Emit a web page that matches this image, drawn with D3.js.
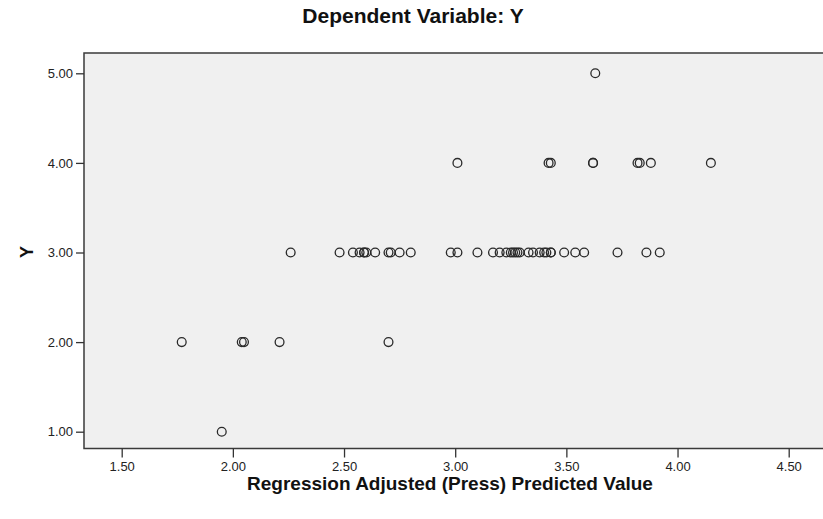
<!DOCTYPE html>
<html>
<head>
<meta charset="utf-8">
<script src="https://cdn.jsdelivr.net/npm/d3@7"></script>
<style>
  html, body { margin: 0; padding: 0; background: #ffffff; }
  svg { display: block; font-family: Arial, "Liberation Sans", sans-serif; }
</style>
</head>
<body>
<svg id="chart" width="823" height="519"></svg>
<script>
// ---- data ----
const chartTitle = "Dependent Variable: Y";
const xTitle = "Regression Adjusted (Press) Predicted Value";
const yTitle = "Y";
const xTicks = [1.5, 2.0, 2.5, 3.0, 3.5, 4.0, 4.5];
const yTicks = [1, 2, 3, 4, 5];

// predicted values observed at each level of Y
const predAtY1 = [1.95];
const predAtY2 = [1.77, 2.04, 2.05, 2.21, 2.70];
const predAtY3 = [2.26, 2.48, 2.54, 2.57, 2.59, 2.59, 2.60, 2.64, 2.70, 2.71, 2.75, 2.80,
                  2.98, 3.01, 3.10, 3.17, 3.20, 3.23, 3.25, 3.26, 3.27, 3.28, 3.29,
                  3.33, 3.35, 3.38, 3.40, 3.41, 3.43, 3.43, 3.49, 3.54, 3.58, 3.73, 3.86, 3.92];
const predAtY4 = [3.01, 3.42, 3.43, 3.62, 3.62, 3.82, 3.83, 3.88, 4.15];
const predAtY5 = [3.63];

const yLevels = [1, 2, 3, 4, 5];
const predByLevel = [predAtY1, predAtY2, predAtY3, predAtY4, predAtY5];

const points = [];
yLevels.forEach((lv, i) => predByLevel[i].forEach(p => points.push({x: p, y: lv})));

// ---- layout ----
const svg = d3.select("#chart");
const plot = {left: 84, top: 53, right: 840, bottom: 448.5};

const x = d3.scaleLinear().domain([1.5, 4.5]).range([121.7, 788.7]);
const y = d3.scaleLinear().domain([1, 5]).range([431.7, 73.3]);

svg.append("rect")
  .attr("x", plot.left).attr("y", plot.top)
  .attr("width", plot.right - plot.left).attr("height", plot.bottom - plot.top)
  .attr("fill", "#f0f0f0")
  .attr("stroke", "#3a3a3a").attr("stroke-width", 1.5);

// axes
const xAxis = d3.axisBottom(x).tickValues(xTicks).tickFormat(d3.format(".2f"))
  .tickSizeOuter(0).tickSizeInner(9).tickPadding(4);
const gx = svg.append("g").attr("transform", `translate(0,${plot.bottom})`).call(xAxis);
gx.select(".domain").remove();

const yAxis = d3.axisLeft(y).tickValues(yTicks).tickFormat(d3.format(".2f"))
  .tickSizeOuter(0).tickSizeInner(8).tickPadding(3);
const gy = svg.append("g").attr("transform", `translate(${plot.left},0)`).call(yAxis);
gy.select(".domain").remove();

svg.selectAll(".tick line").attr("stroke", "#333").attr("stroke-width", 1.3);
svg.selectAll(".tick text").attr("fill", "#222").style("font-size", "13px")
  .style("font-family", "Arial, 'Liberation Sans', sans-serif");

// points
svg.append("g").selectAll("circle").data(points).join("circle")
  .attr("cx", d => x(d.x)).attr("cy", d => y(d.y)).attr("r", 4.4)
  .attr("fill", "none").attr("stroke", "#2a2a2a").attr("stroke-width", 1.3);

// titles
svg.append("text").attr("x", 413).attr("y", 23).attr("text-anchor", "middle")
  .style("font-size", "21px").style("font-weight", "bold").attr("fill", "#111")
  .text(chartTitle);

svg.append("text").attr("x", 450).attr("y", 490).attr("text-anchor", "middle")
  .style("font-size", "19px").style("font-weight", "bold").attr("fill", "#111")
  .text(xTitle);

svg.append("text").attr("transform", "translate(33,252) rotate(-90)")
  .attr("text-anchor", "middle")
  .style("font-size", "18px").style("font-weight", "bold").attr("fill", "#111")
  .text(yTitle);
</script>
</body>
</html>
